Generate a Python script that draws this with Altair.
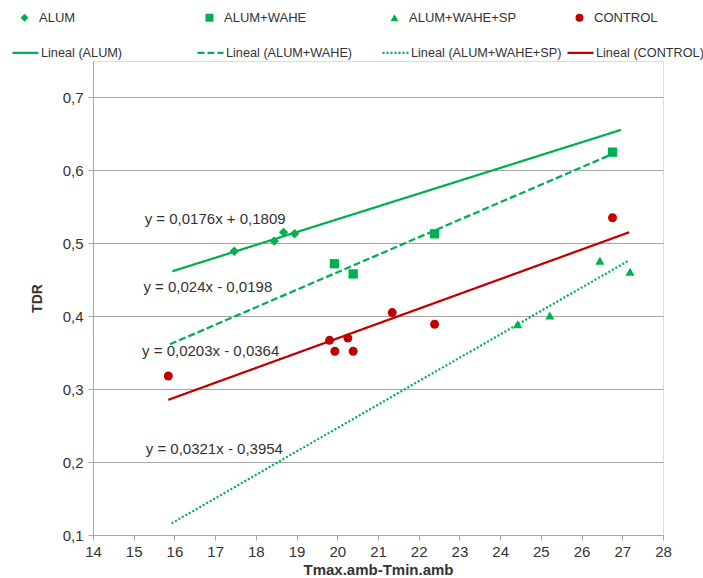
import altair as alt
import pandas as pd

# ---------------- data ----------------
series = ["ALUM", "ALUM+WAHE", "ALUM+WAHE+SP", "CONTROL"]
trend_names = ["Lineal (ALUM)", "Lineal (ALUM+WAHE)", "Lineal (ALUM+WAHE+SP)", "Lineal (CONTROL)"]

alum_x = [17.47, 18.45, 18.68, 18.95]
alum_y = [0.489, 0.503, 0.515, 0.513]
wahe_x = [19.93, 20.39, 22.39, 26.76]
wahe_y = [0.472, 0.458, 0.513, 0.625]
sp_x = [24.43, 25.22, 26.45, 27.19]
sp_y = [0.389, 0.401, 0.476, 0.461]
ctrl_x = [15.85, 19.81, 19.94, 20.26, 20.39, 21.35, 22.39, 26.76]
ctrl_y = [0.318, 0.367, 0.352, 0.370, 0.352, 0.405, 0.389, 0.535]

# trend lines (equations shown on the chart) and their x extents
slopes = [0.0176, 0.024, 0.0321, 0.0203]
intercepts = [0.1809, -0.0198, -0.3954, -0.0364]
trend_x0 = [15.95, 15.89, 15.93, 15.85]
trend_x1 = [26.97, 26.76, 27.15, 27.17]

eq_text = ["y = 0,0176x + 0,1809", "y = 0,024x - 0,0198",
           "y = 0,0321x - 0,3954", "y = 0,0203x - 0,0364"]
eq_x = [17.0, 16.82, 16.98, 16.89]
eq_y = [0.533, 0.440, 0.218, 0.353]

x_ticks = list(range(14, 29))
y_ticks = [0.1, 0.2, 0.3, 0.4, 0.5, 0.6, 0.7]

# ---------------- styling ----------------
GREEN = "#00B050"
RED = "#C00000"
pt_colors = [GREEN, GREEN, GREEN, RED]
ln_colors = [GREEN, GREEN, GREEN, RED]
shapes = ["diamond", "square", "triangle-up", "circle"]
pt_sizes = [90, 80, 110, 100]
dashes = [[1, 0], [7, 3], [2, 2], [1, 0]]
FONT = "Liberation Sans, Arial"
TXT = "#333333"
GRID = "#A6A6A6"

# ---------------- tables ----------------
pts = pd.concat([
    pd.DataFrame({"series": s, "x": xs, "y": ys})
    for s, xs, ys in zip(series, [alum_x, wahe_x, sp_x, ctrl_x], [alum_y, wahe_y, sp_y, ctrl_y])
], ignore_index=True)

lns = pd.DataFrame([
    {"trend": n, "x": xv, "y": m * xv + b, "end": k}
    for n, m, b, a, c in zip(trend_names, slopes, intercepts, trend_x0, trend_x1)
    for k, xv in enumerate([a, c])
])

eqs = pd.DataFrame({"label": eq_text, "x": eq_x, "y": eq_y})

xenc = alt.X("x:Q", scale=alt.Scale(domain=[14, 28], nice=False, zero=False),
             axis=alt.Axis(values=x_ticks, grid=False, title="Tmax.amb-Tmin.amb",
                           labelFont=FONT, labelFontSize=15, labelColor=TXT,
                           labelPadding=4, tickSize=5, tickColor=GRID, domainColor=GRID,
                           titleFont=FONT, titleFontSize=15, titleFontWeight="bold",
                           titleColor=TXT, titlePadding=3, labelFlush=False))
yenc = alt.Y("y:Q", scale=alt.Scale(domain=[0.1, 0.75], nice=False, zero=False),
             axis=alt.Axis(values=y_ticks, grid=True, gridColor=GRID, title="TDR",
                           labelExpr="replace(format(datum.value, '.1f'), '.', ',')",
                           labelFont=FONT, labelFontSize=15, labelColor=TXT,
                           labelPadding=5, tickSize=5, tickColor=GRID, domainColor=GRID,
                           titleFont=FONT, titleFontSize=14, titleFontWeight="bold",
                           titleColor=TXT, titlePadding=18))

pt_legend = alt.Legend(orient="none", legendX=-75, legendY=-50, direction="horizontal",
                       columns=4, gridAlign="all", title=None, labelFont=FONT,
                       labelFontSize=13, labelColor=TXT, symbolSize=64, labelLimit=400,
                       symbolStrokeWidth=0, labelOffset=8, columnPadding=56,
                       padding=0, rowPadding=0)
ln_legend = alt.Legend(orient="none", legendX=-82, legendY=-23, direction="horizontal",
                       columns=4, gridAlign="all", title=None, labelFont=FONT,
                       labelFontSize=12.7, labelColor=TXT, symbolType="stroke", labelLimit=400,
                       symbolSize=676, symbolStrokeWidth=2.25, labelOffset=1,
                       columnPadding=1, padding=0, rowPadding=0)

lines = alt.Chart(lns).mark_line(strokeWidth=2.25).encode(
    x=xenc, y=yenc,
    color=alt.Color("trend:N", scale=alt.Scale(domain=trend_names, range=ln_colors), legend=ln_legend),
    strokeDash=alt.StrokeDash("trend:N", scale=alt.Scale(domain=trend_names, range=dashes), legend=ln_legend),
    order="end:Q",
)

points = alt.Chart(pts).mark_point(filled=True, opacity=1).encode(
    x=xenc, y=yenc,
    color=alt.Color("series:N", scale=alt.Scale(domain=series, range=pt_colors), legend=pt_legend),
    shape=alt.Shape("series:N", scale=alt.Scale(domain=series, range=shapes), legend=pt_legend),
    size=alt.Size("series:N", scale=alt.Scale(domain=series, range=pt_sizes), legend=None),
)

labels = alt.Chart(eqs).mark_text(font=FONT, fontSize=15, color=TXT, align="center",
                                  baseline="middle").encode(x=xenc, y=yenc, text="label:N")

chart = alt.layer(lines, points, labels).resolve_scale(
    color="independent", shape="independent", strokeDash="independent"
).properties(
    width=570, height=474,
    padding={"left": 93, "top": 61, "right": 40, "bottom": 43},
    autosize=alt.AutoSizeParams(type="none"),
).configure_view(stroke=None).configure(background="white")

chart.save("out.html", embed_options={"renderer": "svg", "actions": False})
